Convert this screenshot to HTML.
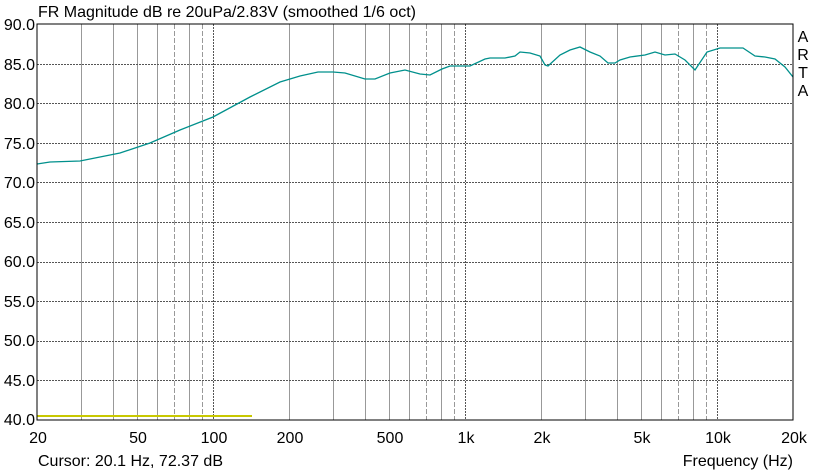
<!DOCTYPE html>
<html><head><style>
body{margin:0;background:#fff;width:813px;height:471px;overflow:hidden}
svg text{font-family:"Liberation Sans",sans-serif;font-size:16px;fill:#000}
</style></head><body>
<svg width="813" height="471" xmlns="http://www.w3.org/2000/svg">
<rect width="813" height="471" fill="#fff"/>
<g id="grid"></g>
<text x="38" y="17">FR Magnitude dB re 20uPa/2.83V (smoothed 1/6 oct)</text>
<g text-anchor="end">
<text x="35" y="30">90.0</text><text x="35" y="70">85.0</text><text x="35" y="109">80.0</text>
<text x="35" y="149">75.0</text><text x="35" y="188">70.0</text><text x="35" y="228">65.0</text>
<text x="35" y="267">60.0</text><text x="35" y="307">55.0</text><text x="35" y="346">50.0</text>
<text x="35" y="386">45.0</text><text x="35" y="425">40.0</text>
</g>
<g text-anchor="middle">
<text x="38" y="443">20</text><text x="138" y="443">50</text><text x="214" y="443">100</text>
<text x="290" y="443">200</text><text x="390" y="443">500</text><text x="466" y="443">1k</text>
<text x="542" y="443">2k</text><text x="642" y="443">5k</text><text x="718" y="443">10k</text>
<text x="794" y="443">20k</text>
</g>
<text x="38" y="466">Cursor: 20.1 Hz, 72.37 dB</text>
<text x="793" y="466" text-anchor="end">Frequency (Hz)</text>
<g text-anchor="middle" style="font-size:17px"><text x="803" y="42">A</text><text x="803" y="60">R</text><text x="803" y="78">T</text><text x="803" y="96">A</text></g>
<line x1="37" y1="416" x2="252" y2="416" stroke="#c8c800" stroke-width="2"/>
<polyline fill="none" stroke="#00908c" stroke-width="1.3" points="37,164 50,162 80,161 120,153 150,143 180,130 213,117 250,97 280,82 300,76 318,72 333,72 345,73 365,79 375,79 390,73 405,70 420,74 430,75 442,69 450,66 470,66 485,59 490,58 505,58 515,56 520,52 530,53 540,56 545,65 548,66 560,55 570,50 580,47 590,52 600,56 608,63 615,63 620,60 630,57 645,55 655,52 665,55 675,54 685,60 695,70 707,52 720,48 743,48 755,56 765,57 775,59 785,67 793,77"/>
<rect x="37" y="24" width="756" height="396" fill="none" stroke="#000" stroke-width="1"/>
</svg>
<script>
var g=document.getElementById('grid'),s='';
var freqs=[];for(var e=1;e<=4;e++)for(var m=1;m<=9;m++){var f=m*Math.pow(10,e);if(f>20&&f<20000)freqs.push([f,m]);}
freqs.forEach(function(p){var x=Math.round(37+252*Math.log10(p[0]/20))+0.5;var m=p[1];var st='stroke="#999"';
if(m==1)st='stroke="#555" stroke-dasharray="2,1"';else if(m==7||m==9)st='stroke="#999" stroke-dasharray="5,2"';
s+='<line x1="'+x+'" y1="24" x2="'+x+'" y2="420" '+st+'/>';});
for(var i=1;i<10;i++){var y=Math.round(24+i*39.6)+0.5;s+='<line x1="37" y1="'+y+'" x2="793" y2="'+y+'" stroke="#555" stroke-dasharray="2,1"/>';}
g.innerHTML=s;
</script>
</body></html>
